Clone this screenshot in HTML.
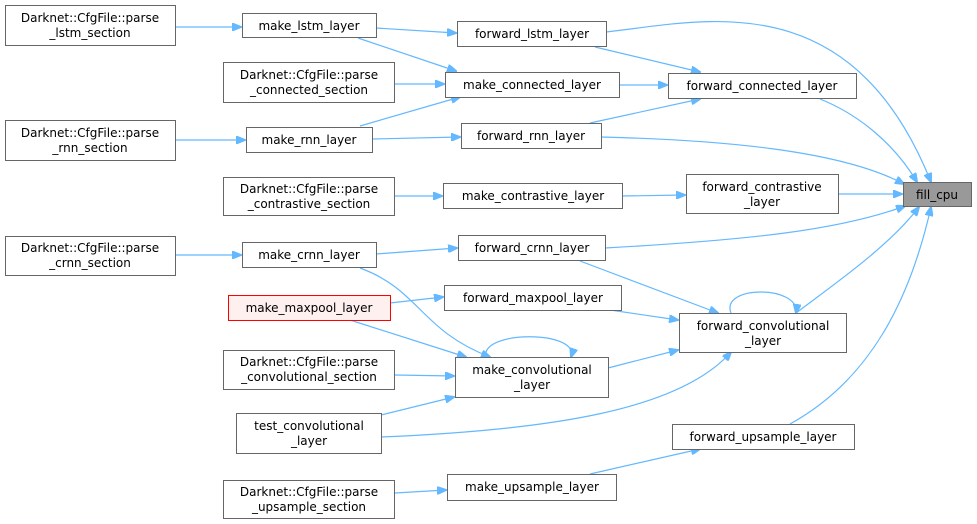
<!DOCTYPE html>
<html><head><meta charset="utf-8"><style>
html,body{margin:0;padding:0;background:#fff;}
svg{display:block;}
text{font-family:"DejaVu Sans","Liberation Sans",sans-serif;font-size:12px;fill:#000;text-anchor:middle;}
rect{fill:#fff;stroke:#666;stroke-width:1;}
path{fill:none;stroke:#63b8ff;stroke-width:1.2;}
</style></head><body>
<svg width="977" height="524" viewBox="0 0 977 524" xmlns="http://www.w3.org/2000/svg">
<defs><marker id="a" markerWidth="10" markerHeight="8" refX="9" refY="4" orient="auto" markerUnits="userSpaceOnUse"><path d="M0,0 L10,4 L0,8 Z" style="fill:#63b8ff;stroke:#63b8ff"/></marker></defs>
<g marker-end="url(#a)">
<path d="M176,27 L241,27"/>
<path d="M376,28 L456,33"/>
<path d="M358,38 L456,71"/>
<path d="M606,32 C700,22 850,-20 931,182"/>
<path d="M595,47 L700,72"/>
<path d="M395,84 L444,84"/>
<path d="M619,85 L667,85"/>
<path d="M360,126 L460,97"/>
<path d="M590,123 L700,99"/>
<path d="M820,99 C860,115 895,145 917,182"/>
<path d="M176,140 L245,140"/>
<path d="M373,139 L460,137"/>
<path d="M601,137 C720,140 840,150 904,184"/>
<path d="M395,196 L442,196"/>
<path d="M622,196 L685,195"/>
<path d="M838,194 L902,194"/>
<path d="M605,248 C750,240 840,230 905,206"/>
<path d="M176,255 L241,255"/>
<path d="M376,254 L457,248"/>
<path d="M580,261 L718,313"/>
<path d="M360,268 C420,290 420,330 490,357"/>
<path d="M390,303 L443,297"/>
<path d="M610,310 L678,320"/>
<path d="M350,320 L466,357"/>
<path d="M731,313 C720,285 800,285 796,313"/>
<path d="M796,313 C840,280 890,245 919,207"/>
<path d="M486,357 C480,330 580,330 571,357"/>
<path d="M395,375 L454,376"/>
<path d="M608,368 L678,350"/>
<path d="M381,415 L454,397"/>
<path d="M381,437 C550,430 680,410 731,352"/>
<path d="M790,424 C870,380 910,300 931,207"/>
<path d="M590,474 L700,449"/>
<path d="M395,493 L446,490"/>
</g>
<rect x="5.5" y="5.5" width="170" height="40"/><text x="90" y="22">Darknet::CfgFile::parse</text><text x="90" y="37">_lstm_section</text>
<rect x="242.5" y="13.5" width="134" height="24"/><text x="309" y="30">make_lstm_layer</text>
<rect x="457.5" y="21.5" width="149" height="25"/><text x="532" y="38">forward_lstm_layer</text>
<rect x="223.5" y="62.5" width="171" height="40"/><text x="309" y="79">Darknet::CfgFile::parse</text><text x="309" y="94">_connected_section</text>
<rect x="445.5" y="72.5" width="174" height="25"/><text x="532" y="89">make_connected_layer</text>
<rect x="668.5" y="73.5" width="188" height="25"/><text x="762" y="90">forward_connected_layer</text>
<rect x="5.5" y="120.5" width="170" height="40"/><text x="90" y="137">Darknet::CfgFile::parse</text><text x="90" y="152">_rnn_section</text>
<rect x="246.5" y="127.5" width="126" height="25"/><text x="309" y="144">make_rnn_layer</text>
<rect x="461.5" y="123.5" width="140" height="25"/><text x="531" y="140">forward_rnn_layer</text>
<rect x="903.5" y="182.5" width="68" height="24" style="fill:#999"/><text x="937" y="199">fill_cpu</text>
<rect x="223.5" y="177.5" width="171" height="38"/><text x="309" y="193">Darknet::CfgFile::parse</text><text x="309" y="208">_contrastive_section</text>
<rect x="443.5" y="183.5" width="179" height="25"/><text x="533" y="200">make_contrastive_layer</text>
<rect x="686.5" y="174.5" width="152" height="39"/><text x="762" y="191">forward_contrastive</text><text x="762" y="206">_layer</text>
<rect x="5.5" y="236.5" width="170" height="39"/><text x="90" y="252">Darknet::CfgFile::parse</text><text x="90" y="267">_crnn_section</text>
<rect x="242.5" y="242.5" width="134" height="25"/><text x="309" y="259">make_crnn_layer</text>
<rect x="458.5" y="235.5" width="147" height="25"/><text x="532" y="252">forward_crnn_layer</text>
<rect x="228.5" y="295.5" width="162" height="25" style="fill:#fff0f0;stroke:#f00"/><text x="309" y="312">make_maxpool_layer</text>
<rect x="444.5" y="285.5" width="177" height="25"/><text x="533" y="302">forward_maxpool_layer</text>
<rect x="679.5" y="313.5" width="167" height="39"/><text x="763" y="330">forward_convolutional</text><text x="763" y="345">_layer</text>
<rect x="223.5" y="350.5" width="171" height="39"/><text x="309" y="366">Darknet::CfgFile::parse</text><text x="309" y="381">_convolutional_section</text>
<rect x="455.5" y="357.5" width="153" height="40"/><text x="532" y="374">make_convolutional</text><text x="532" y="389">_layer</text>
<rect x="236.5" y="413.5" width="145" height="40"/><text x="309" y="430">test_convolutional</text><text x="309" y="445">_layer</text>
<rect x="672.5" y="424.5" width="182" height="25"/><text x="763" y="441">forward_upsample_layer</text>
<rect x="223.5" y="480.5" width="171" height="38"/><text x="309" y="496">Darknet::CfgFile::parse</text><text x="309" y="511">_upsample_section</text>
<rect x="447.5" y="474.5" width="169" height="26"/><text x="532" y="491">make_upsample_layer</text>
</svg>
</body></html>
